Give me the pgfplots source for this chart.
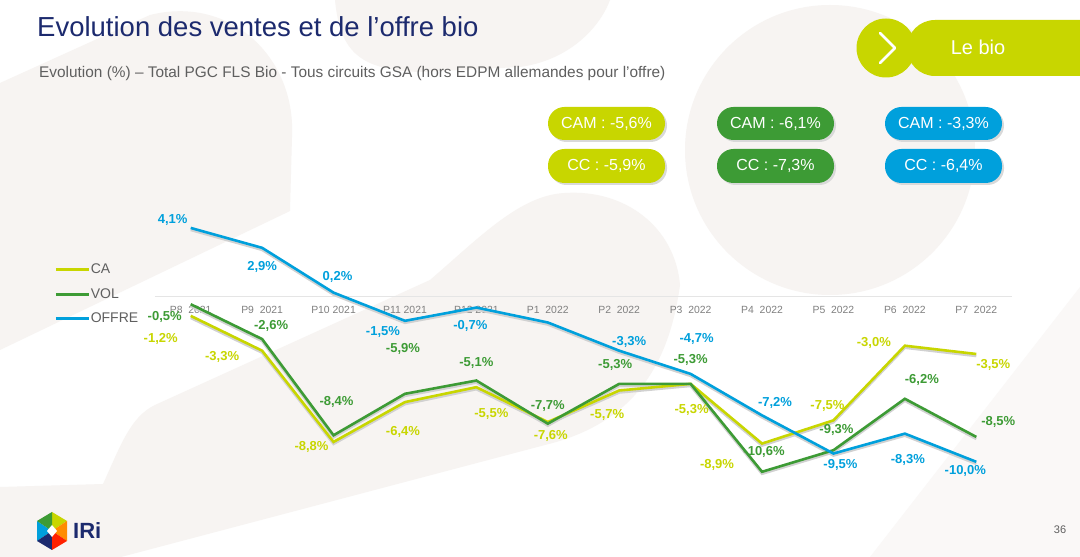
\documentclass[border=0pt]{standalone}
\usepackage{pgfplots}
\pgfplotsset{compat=1.18}
\usepackage{pgfplotstable}
\usepackage{fontspec}
\setmainfont{Liberation Sans}

\definecolor{ca}{RGB}{200,214,0}
\definecolor{vol}{RGB}{61,155,53}
\definecolor{offre}{RGB}{0,160,220}
\definecolor{navy}{RGB}{28,42,110}
\definecolor{bgbeige}{RGB}{247,244,242}
\definecolor{txtgray}{RGB}{95,95,95}

% x = period index (P8 2021 ... P7 2022), y = evolution %, dx/dy = label offset (pt)
\pgfplotstableread{
x y dx dy
0 -1.2 -30 -23
1 -3.3 -40 -6
2 -8.8 -22 -5
3 -6.4 -2 -30
4 -5.5 15 -27
5 -7.6 3 -14
6 -5.7 -12 -24
7 -5.3 1 -26
8 -8.9 -45 -21
9 -7.5 -6 14
10 -3.0 -31 3
11 -3.5 17 -11
}\catab

\pgfplotstableread{
x y dx dy
0 -0.5 -26 -13
1 -2.6 9 13
2 -8.4 3 33
3 -5.9 -2 45
4 -5.1 0 18
5 -7.7 0 18
6 -5.3 -4 19
7 -5.3 0 24
8 -10.6 2 20
9 -9.3 3 20
10 -6.2 17 19
11 -8.5 22 15
}\voltab

\pgfplotstableread{
x y dx dy
0 4.1 -18 8
1 2.9 0 -19
2 0.2 4 16
3 -1.5 -22 -11
4 -0.7 -6 -18
5 -1.6 0 0
6 -3.3 10 9
7 -4.7 6 35
8 -7.2 13 12
9 -9.5 7 -11
10 -8.3 3 -26
11 -10.0 -11 -9
}\offretab

\pgfplotsset{
  lbl/.style={forget plot, draw=none, mark=none, point meta=y,
    nodes near coords={\pgfmathprintnumber{\pgfplotspointmeta}\%},
    visualization depends on={\thisrow{dx}\as\dx},
    visualization depends on={\thisrow{dy}\as\dy},
    every node near coord/.append style={anchor=center, xshift=\dx pt, yshift=\dy pt,
      text=#1, font=\bfseries\fontsize{13}{15}\selectfont}},
  shad/.style={forget plot, black!18, line width=2.6pt, yshift=-2pt}
}

\begin{document}
\begin{tikzpicture}
\begin{scope}[x=1pt,y=1pt]
  \fill[white] (0,0) rectangle (1080,557);
  \useasboundingbox (0,0) rectangle (1080,557);
  \begin{scope}
    \clip (0,0) rectangle (1080,557);
    % faint background shapes
    \fill[bgbeige] (0,474) -- (150,542) .. controls (230,562) and (296,500) .. (292,420)
       -- (290,346) -- (0,207) -- cycle;
    \fill[bgbeige] (335,557) .. controls (340,505) and (360,487) .. (420,485) -- (520,490)
       .. controls (570,497) and (600,530) .. (610,557) -- cycle;
    \fill[bgbeige] (830,407) circle (145);
    \fill[bgbeige] (0,70) -- (103,73) .. controls (120,110) and (130,140) .. (155,152)
       -- (430,277) .. controls (480,320) and (520,362) .. (565,364)
       .. controls (625,368) and (675,330) .. (680,272)
       .. controls (670,200) and (640,135) .. (545,112) -- (121,0) -- (0,0) -- cycle;
    \fill[bgbeige!60!white] (870,0) -- (1080,0) -- (1080,270) -- cycle;
  \end{scope}

  % title and subtitle
  \node[anchor=base west, text=navy, font=\fontsize{27.5}{32}\selectfont, inner sep=0pt] at (37,520) {Evolution des ventes et de l’offre bio};
  \node[anchor=west, text=txtgray, font=\fontsize{15.4}{18}\selectfont, inner sep=0pt] at (39,483) {Evolution (\%) – Total PGC FLS Bio - Tous circuits GSA (hors EDPM allemandes pour l’offre)};

  % "Le bio" tab
  \fill[ca] (886,509) circle (29.5);
  \fill[ca, rounded corners=28pt] (907,481) rectangle (1120,537);
  \draw[white, line width=2.6pt, line cap=round, line join=round] (880,524) -- (895,509) -- (880,494);
  \node[text=white, font=\fontsize{20}{24}\selectfont] at (978,510) {Le bio};

  % CAM / CC pills
  \foreach \x/\c/\a/\b in {548/ca/{-5,6}/{-5,9}, 717/vol/{-6,1}/{-7,3}, 885/offre/{-3,3}/{-6,4}}{
    \fill[black!15, rounded corners=16.5pt] (\x+2,415) rectangle (\x+119,448);
    \fill[\c, rounded corners=16.5pt] (\x,417) rectangle (\x+117,450);
    \node[text=white, font=\fontsize{16}{19}\selectfont] at (\x+58.5,433.5) {CAM : \a\%};
    \fill[black!15, rounded corners=16.5pt] (\x+2,372) rectangle (\x+119,406);
    \fill[\c, rounded corners=16.5pt] (\x,374) rectangle (\x+117,408);
    \node[text=white, font=\fontsize{16}{19}\selectfont] at (\x+58.5,391) {CC : \b\%};
  }

  % IRi logo and page number
  \fill[ca] (52,45) -- (67,36) -- (52,26) -- cycle;
  \fill[offre] (37,36) -- (37,16) -- (52,26) -- cycle;
  \fill[orange!90!yellow] (67,36) -- (67,16) -- (52,26) -- cycle;
  \fill[navy] (37,16) -- (52,7) -- (52,26) -- cycle;
  \fill[red!75!orange] (67,16) -- (52,7) -- (52,26) -- cycle;
  \fill[vol] (52,45) -- (37,36) -- (52,26) -- cycle;
  \fill[white] (52,32) -- (57,26) -- (52,20) -- (47,26) -- cycle;
  \node[text=navy, font=\bfseries\fontsize{22}{26}\selectfont, anchor=west, inner sep=0pt] at (73,26) {IRi};
  \node[text=txtgray, font=\fontsize{11}{13}\selectfont] at (1060,27) {36};
\end{scope}

\begin{axis}[
  at={(155pt,62pt)}, anchor=south west,
  scale only axis, width=857pt, height=282pt,
  xmin=-0.5, xmax=11.5, ymin=-12, ymax=5,
  axis x line=middle, axis y line=none,
  x axis line style={draw=black!10, line width=0.8pt, -},
  xtick={0,...,11},
  xticklabels={P8\ \ 2021, P9\ \ 2021, P10 2021, P11 2021, P12 2021, P1\ \ 2022,
    P2\ \ 2022, P3\ \ 2022, P4\ \ 2022, P5\ \ 2022, P6\ \ 2022, P7\ \ 2022},
  xticklabel style={anchor=center, yshift=-14pt, text=black!50, font=\fontsize{10.4}{12}\selectfont},
  major tick length=0pt,
  ytick=\empty,
  clip=false,
  /pgf/number format/.cd, use comma, fixed, fixed zerofill, precision=1, assume math mode=true,
  /pgfplots/.cd,
  legend style={at={(-0.121,0.828)}, anchor=north west, draw=none, fill=none,
    font=\fontsize{14}{16}\selectfont, text=txtgray, row sep=12pt,
    nodes={inner sep=0.5pt}},
  legend cell align=left,
  legend image code/.code={\draw[#1, line width=2.8pt] (0pt,0pt) -- (33pt,0pt);},
]
\addplot[shad] table[x=x,y=y]{\catab};
\addplot[shad] table[x=x,y=y]{\voltab};
\addplot[shad] table[x=x,y=y]{\offretab};

\addplot[ca, line width=2.6pt] table[x=x,y=y]{\catab};
\addlegendentry{CA}
\addplot[vol, line width=2.6pt] table[x=x,y=y]{\voltab};
\addlegendentry{VOL}
\addplot[offre, line width=2.6pt] table[x=x,y=y]{\offretab};
\addlegendentry{OFFRE}

\addplot[lbl=ca] table[x=x,y=y]{\catab};
\addplot[lbl=vol] table[x=x,y=y]{\voltab};
% no label is shown for P1 2022 on the offer line
\addplot[lbl=offre, skip coords between index={5}{6}] table[x=x,y=y]{\offretab};
\end{axis}
\end{tikzpicture}
\end{document}
